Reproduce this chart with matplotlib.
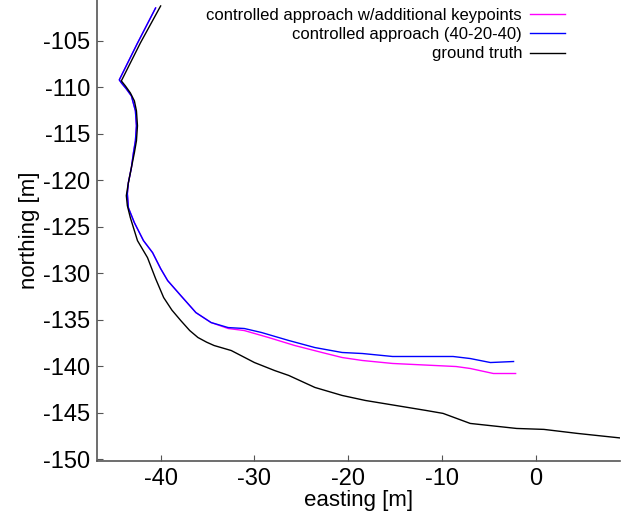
import matplotlib
matplotlib.use("Agg")
import matplotlib.pyplot as plt

plt.rcParams['font.family'] = ['Liberation Sans', 'DejaVu Sans']
plt.rcParams['axes.unicode_minus'] = False

# ground truth trajectory
gt_e = [-40.0, -42.15, -44.19, -43.76, -43.23, -42.80, -42.58, -42.47, -42.58, -42.80,
        -43.12, -43.44, -43.66, -43.55, -43.23, -42.47, -41.40, -40.54, -39.68, -38.8,
        -37.85, -36.9, -36.02, -35.1, -34.30, -32.47, -30.0, -27.85, -26.34, -23.55,
        -20.65, -18.17, -11.72, -9.89, -6.99, -2.04, 0.86, 4.41, 9.46]
gt_n = [-101.24, -105.2, -109.30, -109.84, -110.59, -111.45, -112.52, -114.13, -115.74, -117.03,
        -118.64, -120.25, -121.64, -122.72, -124.01, -126.48, -128.31, -130.56, -132.60, -133.95,
        -135.08, -136.15, -136.90, -137.40, -137.76, -138.30, -139.59, -140.45, -140.98, -142.27,
        -143.13, -143.67, -144.74, -145.06, -146.14, -146.68, -146.78, -147.21, -147.75]

# controlled approach (40-20-40)
ca_e = [-40.54, -42.5, -44.41, -44.19, -43.66, -43.12, -42.69, -42.58, -42.69, -42.90,
        -43.12, -43.44, -43.55, -43.44, -42.80, -41.83, -40.86, -40.0, -39.25, -37.85,
        -36.24, -34.62, -32.80, -31.08, -29.25, -26.34, -23.55, -20.65, -18.49, -15.27,
        -8.82, -6.99, -4.84, -2.37]
ca_n = [-101.46, -105.3, -109.19, -109.51, -110.16, -110.91, -112.52, -114.13, -115.74, -117.03,
        -118.64, -120.25, -121.43, -122.94, -124.55, -126.48, -127.77, -129.49, -130.78, -132.39,
        -134.22, -135.29, -135.83, -135.93, -136.36, -137.22, -137.98, -138.51, -138.62, -138.94,
        -138.94, -139.16, -139.59, -139.48]

# controlled approach w/ additional keypoints
kp_e = ca_e[:22] + [-32.80, -31.08, -28.49, -25.70, -22.80, -20.65, -18.49, -15.27,
                    -8.49, -6.99, -4.52, -2.15]
kp_n = ca_n[:22] + [-135.93, -136.15, -136.90, -137.76, -138.51, -139.05, -139.37, -139.69,
                    -140.02, -140.23, -140.77, -140.77]

fig = plt.figure(figsize=(6.29, 5.13), dpi=100)
ax = fig.add_axes([0.154, 0.101, 0.832, 0.899])

ax.plot(kp_e, kp_n, color="#ff00ff", lw=1.0, label="controlled approach w/additional keypoints")
ax.plot(ca_e, ca_n, color="#0000ff", lw=1.0, label="controlled approach (40-20-40)")
ax.plot(gt_e, gt_n, color="black", lw=1.0, label="ground truth")

ax.set_xlim(-46.8, 9.0)
ax.set_ylim(-150.2, -100.6)
ax.set_xticks([-40, -30, -20, -10, 0])
ax.set_yticks([-105, -110, -115, -120, -125, -130, -135, -140, -145, -150])
for s in ["top", "right"]:
    ax.spines[s].set_visible(False)
for s in ["left", "bottom"]:
    ax.spines[s].set_color("#555555")
    ax.spines[s].set_linewidth(1.2)
ax.tick_params(direction="in", length=4, color="#555555", labelsize=17, pad=5)
ax.set_xlabel("easting [m]", fontsize=16, labelpad=0)
ax.set_ylabel("northing [m]", fontsize=16, labelpad=2)

leg = ax.legend(loc="upper right", bbox_to_anchor=(0.908, 0.997), frameon=False,
                markerfirst=False, fontsize=12, handlelength=2.1, handletextpad=0.5,
                borderaxespad=0.0, labelspacing=0.25)
for t in leg.get_texts():
    t.set_ha("right")
leg._legend_box.align = "right"

fig.savefig("out.png", dpi=100)
